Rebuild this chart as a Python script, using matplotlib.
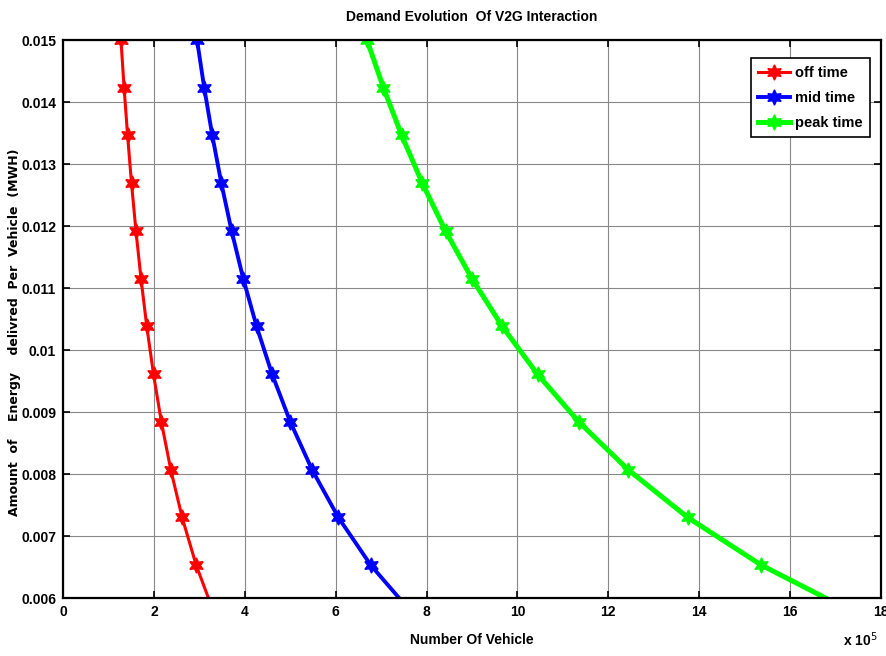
import matplotlib
matplotlib.use("Agg")
import matplotlib.pyplot as plt

# energy per vehicle (MWH), one value per marker
energy = [0.015, 0.01423, 0.01346, 0.01269, 0.01192, 0.01115, 0.01038,
          0.00961, 0.00884, 0.00807, 0.0073, 0.00653, 0.00576]

# number of vehicles (x 10^5)
off_time = [1.276, 1.345, 1.422, 1.508, 1.606, 1.717, 1.844,
            1.992, 2.165, 2.372, 2.622, 2.931, 3.323]
mid_time = [2.95, 3.108, 3.286, 3.485, 3.711, 3.967, 4.261,
            4.602, 5.003, 5.481, 6.059, 6.773, 7.679]
peak_time = [6.69, 7.052, 7.455, 7.908, 8.418, 9.0, 9.667,
             10.442, 11.352, 12.435, 13.747, 15.368, 17.422]

series = [("off time", off_time, "#ff0000", 2.2),
          ("mid time", mid_time, "#0000ff", 2.8),
          ("peak time", peak_time, "#00ff00", 3.6)]

narrow = ["Liberation Sans", "DejaVu Sans"]

fig = plt.figure(figsize=(8.87, 6.56), dpi=100)
ax = fig.add_axes([0.071, 0.0884, 0.9222, 0.8506])

for name, xs, col, lw in series:
    ax.plot(xs, energy, color=col, lw=lw, marker=(6, 1, 0), markersize=11,
            markeredgecolor=col, markerfacecolor=col, label=name)

ax.set_xlim(0, 18)
ax.set_ylim(0.006, 0.015)
ax.set_xticks(range(0, 19, 2))
ax.set_yticks([0.006, 0.007, 0.008, 0.009, 0.01, 0.011, 0.012, 0.013, 0.014, 0.015])
ax.set_yticklabels(["0.006", "0.007", "0.008", "0.009", "0.01", "0.011",
                    "0.012", "0.013", "0.014", "0.015"])
ax.grid(True, color="#888888", lw=0.8)
ax.tick_params(direction="in", top=True, right=True, length=5, width=1.2,
               pad=5)
for lab in ax.get_xticklabels() + ax.get_yticklabels():
    lab.set_family(narrow)
    lab.set_fontweight("bold")
    lab.set_fontsize(10)
for sp in ax.spines.values():
    sp.set_linewidth(1.6)

ax.set_title("Demand Evolution  Of V2G Interaction", family=narrow,
             fontweight="bold", fontsize=10, pad=14)
ax.set_xlabel("Number Of Vehicle", family=narrow, fontweight="bold",
              fontsize=10, labelpad=10)
fig.text(0.016, 0.494,
         "Amount  of    Energy    delivred  Per  Vehicle  (MWH)",
         rotation=90, ha="center", va="center", fontweight="bold",
         fontsize=9)
fig.text(0.95, 0.015, r"x 10$^5$", family=narrow, fontweight="bold",
         fontsize=10)

leg = ax.legend(loc="upper right", bbox_to_anchor=(0.995, 0.98),
                prop={"family": narrow, "weight": "bold", "size": 10.5},
                fancybox=False, framealpha=1, edgecolor="black",
                handlelength=2.2, handletextpad=0.3, borderpad=0.5,
                labelspacing=0.75)
leg.get_frame().set_linewidth(1.2)

fig.savefig("out.png", dpi=100)
